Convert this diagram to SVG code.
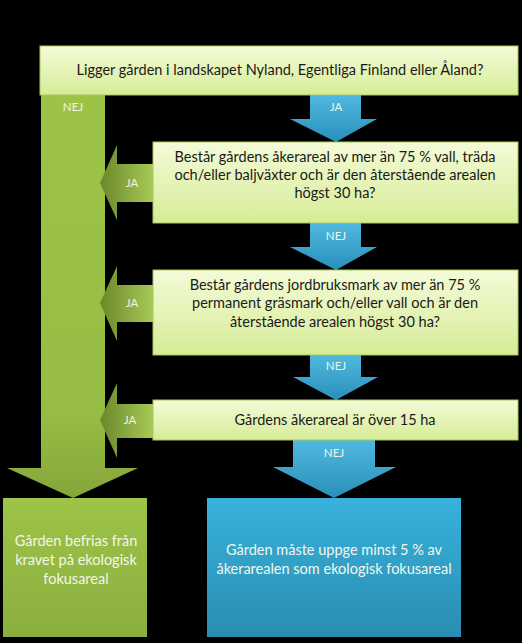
<svg xmlns="http://www.w3.org/2000/svg" width="522" height="643" viewBox="0 0 522 643">
<defs>
<linearGradient id="gLight" x1="0" y1="0" x2="0" y2="1">
<stop offset="0" stop-color="#f4fbd8"/><stop offset="1" stop-color="#d6ec96"/>
</linearGradient>
<linearGradient id="gBar" x1="0" y1="0" x2="0" y2="1">
<stop offset="0" stop-color="#9cc346"/><stop offset="0.8" stop-color="#97bc44"/><stop offset="1" stop-color="#84a63a"/>
</linearGradient>
<linearGradient id="gJa" x1="0" y1="0" x2="1" y2="0">
<stop offset="0" stop-color="#6a872a"/><stop offset="1" stop-color="#a7ca56"/>
</linearGradient>
<linearGradient id="gBlueArrow" x1="0" y1="0" x2="0" y2="1">
<stop offset="0" stop-color="#4fb9e0"/><stop offset="1" stop-color="#2a8fba"/>
</linearGradient>
<linearGradient id="gBlueBox" x1="0" y1="0" x2="0" y2="1">
<stop offset="0" stop-color="#38b2dd"/><stop offset="1" stop-color="#2a8db1"/>
</linearGradient>
<linearGradient id="gGreenBox" x1="0" y1="0" x2="0" y2="1">
<stop offset="0" stop-color="#9dc348"/><stop offset="1" stop-color="#8aaf3e"/>
</linearGradient>
</defs>
<style>
.box{fill:url(#gLight);stroke:#a8c85c;stroke-width:1}
.q{font-family:Lato,"Liberation Sans",sans-serif;font-size:14.5px;fill:#1a1a1a;text-anchor:middle}
.lbl{font-family:Lato,"Liberation Sans",sans-serif;font-size:11.5px;fill:#f2f5e8;text-anchor:middle}
.res{font-family:Lato,"Liberation Sans",sans-serif;font-size:14.5px;fill:#f4f6ea;text-anchor:middle}
.ba{fill:url(#gBlueArrow)}
.ja{fill:url(#gJa)}
</style>
<rect width="522" height="643" fill="#000"/>
<g id="connectors">
<path d="M41,95 H105 V468 H138 L73,498 L7,468 H41 Z" fill="url(#gBar)"/>
<text class="lbl" x="73" y="111">NEJ</text>
<path class="ba" d="M310,95 H361 V119 H377 L336,142 L290,119 H310 Z"/>
<text class="lbl" x="336" y="111">JA</text>
<path class="ba" d="M310,223 H361 V247 H377 L336,270 L290,247 H310 Z"/>
<text class="lbl" x="336" y="240">NEJ</text>
<path class="ba" d="M310,355 H361 V377 H378 L336,400 L293,377 H310 Z"/>
<text class="lbl" x="336" y="370">NEJ</text>
<path class="ba" d="M293,440 H375 V467 H396 L334,498 L273,467 H293 Z"/>
<text class="lbl" x="334" y="457">NEJ</text>
<path class="ja" d="M153,164 V202 H117 V220 L100,183 L117,145 V164 Z"/>
<text class="lbl" x="132" y="187">JA</text>
<path class="ja" d="M153,285 V322 H117 V341 L100,303 L117,266 V285 Z"/>
<text class="lbl" x="132" y="307">JA</text>
<path class="ja" d="M153,404 V438 H117 V458 L100,420 L117,383 V404 Z"/>
<text class="lbl" x="130" y="424">JA</text>
</g>
<g id="q1">
<rect class="box" x="40" y="46" width="478" height="49"/>
<text class="q" x="280" y="75">Ligger gården i landskapet Nyland, Egentliga Finland eller Åland?</text>
</g>
<g id="q2">
<rect class="box" x="153" y="142" width="365" height="81"/>
<text class="q" x="335" y="162">Består gårdens åkerareal av mer än 75 % vall, träda</text>
<text class="q" x="335" y="180">och/eller baljväxter och är den återstående arealen</text>
<text class="q" x="335" y="198">högst 30 ha?</text>
</g>
<g id="q3">
<rect class="box" x="153" y="270" width="365" height="85"/>
<text class="q" x="335" y="290">Består gårdens jordbruksmark av mer än 75 %</text>
<text class="q" x="335" y="308">permanent gräsmark och/eller vall och är den</text>
<text class="q" x="335" y="327">återstående arealen högst 30 ha?</text>
</g>
<g id="q4">
<rect class="box" x="153" y="400" width="365" height="40"/>
<text class="q" x="335" y="425">Gårdens åkerareal är över 15 ha</text>
</g>
<g id="r1">
<rect x="3" y="498" width="144" height="139" fill="url(#gGreenBox)"/>
<text class="res" x="76" y="546">Gården befrias från</text>
<text class="res" x="76" y="565">kravet på ekologisk</text>
<text class="res" x="76" y="584">fokusareal</text>
</g>
<g id="r2">
<rect x="207" y="498" width="254" height="139" fill="url(#gBlueBox)"/>
<text class="res" x="334" y="555">Gården måste uppge minst 5 % av</text>
<text class="res" x="334" y="574">åkerarealen som ekologisk fokusareal</text>
</g>
</svg>
